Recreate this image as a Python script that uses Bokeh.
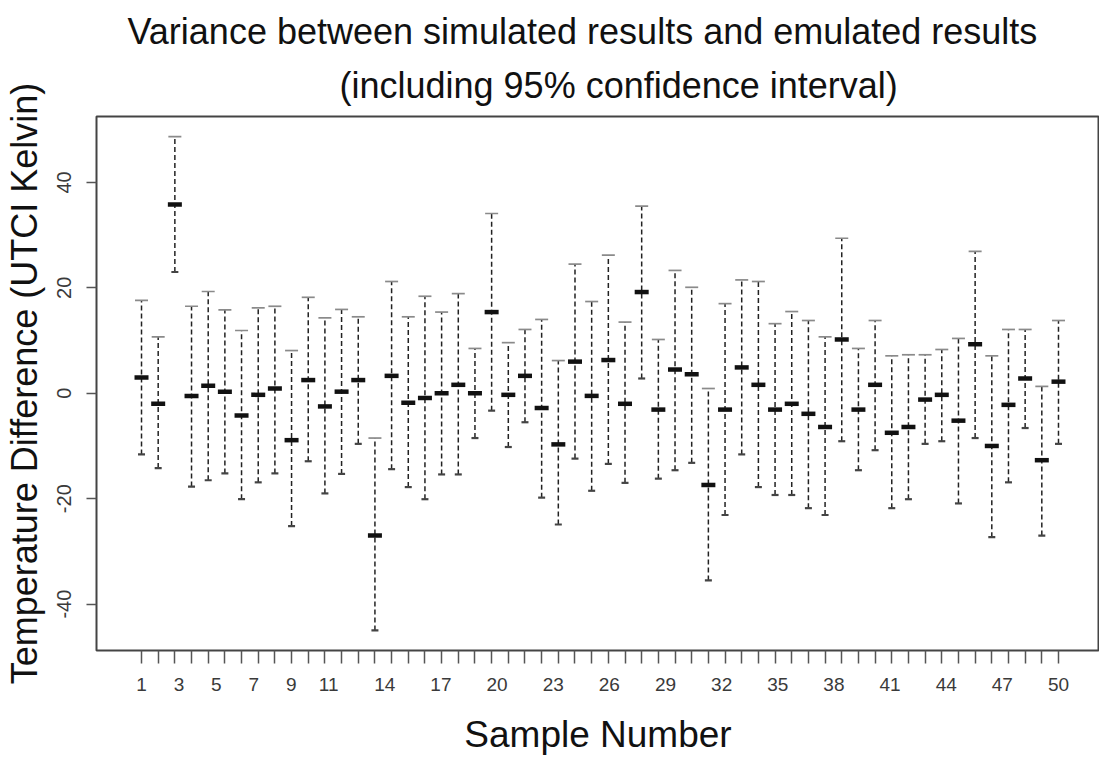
from bokeh.plotting import figure
from bokeh.models import Range1d, FixedTicker, CustomJSTickFormatter, Title, ColumnDataSource
from bokeh.embed import file_html
from bokeh.resources import INLINE

FONT = "Liberation Sans"

# ---------------- data ----------------
sample_means = [3.0, -2.0, 35.8, -0.5, 1.4, 0.3, -4.2, -0.3, 0.9, -8.9, 2.5, -2.5, 0.3,
                2.5, -27.0, 3.3, -1.8, -0.9, 0.0, 1.6, 0.0, 15.4, -0.3, 3.3, -2.8, -9.7, 6.0, -0.5,
                6.3, -2.0, 19.2, -3.1, 4.5, 3.6, -17.4, -3.1, 4.9, 1.6, -3.1, -2.0, -3.9, -6.4, 10.2,
                -3.1, 1.6, -7.5, -6.4, -1.2, -0.3, -5.2, 9.3, -10.0, -2.2, 2.8, -12.7, 2.2]
upper_ci = [17.6, 10.7, 48.7, 16.5, 19.3, 15.8, 11.9, 16.2, 16.5, 8.1, 18.2, 14.3, 15.9,
            14.5, -8.5, 21.2, 14.5, 18.4, 15.4, 18.9, 8.5, 34.1, 9.6, 12.1, 14.0, 6.2, 24.5, 17.4,
            26.2, 13.5, 35.5, 10.2, 23.3, 20.1, 0.9, 17.0, 21.5, 21.2, 13.2, 15.5, 13.8, 10.7, 29.4,
            8.5, 13.8, 7.1, 7.3, 7.3, 8.3, 10.4, 26.9, 7.1, 12.1, 12.1, 1.3, 13.8]
lower_ci = [-11.6, -14.2, 23.0, -17.7, -16.5, -15.2, -20.1, -16.9, -15.2, -25.2, -12.9, -19.0, -15.3,
            -9.6, -45.0, -14.4, -17.8, -20.1, -15.4, -15.4, -8.5, -3.3, -10.2, -5.5, -19.8, -24.9, -12.4, -18.5,
            -13.4, -17.0, 2.8, -16.2, -14.6, -13.2, -35.5, -23.1, -11.6, -17.8, -19.3, -19.3, -21.8, -23.1, -9.1,
            -14.6, -10.8, -21.8, -20.1, -9.6, -9.1, -20.9, -8.5, -27.3, -16.9, -6.6, -27.0, -9.6]
x_tick_labels = ["1", "3", "5", "7", "9", "11", "14", "17", "20", "23", "26", "29",
                 "32", "35", "38", "41", "44", "47", "50"]
y_ticks = [-40, -20, 0, 20, 40]

title_line1 = "Variance between simulated results and emulated results"
title_line2 = "(including 95% confidence interval)"
x_title = "Sample Number"
y_title = "Temperature Difference (UTCI Kelvin)"

n = len(sample_means)
idx = list(range(1, n + 1))
# in the reference the labels 1..50 are spread evenly over the bar positions 1..n
label_max = 50
label_pos = [1 + (int(t) - 1) * (n - 1) / (label_max - 1) for t in x_tick_labels]

src = ColumnDataSource(dict(x=idx, m=sample_means, lo=lower_ci, hi=upper_ci))

p = figure(width=1099, height=774,
           x_range=Range1d(-1.7, 58.46), y_range=Range1d(-48.8, 52.5),
           output_backend="svg", toolbar_location=None, title=None,
           min_border_left=95, min_border_right=0, min_border_top=116, min_border_bottom=124)
p.grid.visible = False
p.outline_line_color = "#444444"
p.outline_line_width = 2
p.background_fill_color = "white"
p.border_fill_color = "white"

p.segment(x0="x", y0="lo", x1="x", y1="hi", source=src,
          line_color="#222222", line_width=1.5, line_dash="5 3")
p.scatter(x="x", y="hi", source=src, marker="dash", size=13,
          line_color="#8a8a8a", line_width=1.7)
p.scatter(x="x", y="lo", source=src, marker="dash", size=7,
          line_color="#444444", line_width=2.2)
p.rect(x="x", y="m", width=14, height=4.5, width_units="screen", height_units="screen",
       source=src, fill_color="#111111", line_color=None)

# x axis
xa = p.xaxis[0]
xa.ticker = FixedTicker(ticks=label_pos, minor_ticks=idx)
xa.formatter = CustomJSTickFormatter(args=dict(labs=x_tick_labels), code="return labs[index];")
xa.axis_line_color = None
xa.major_tick_line_color = None
xa.major_tick_in = 0
xa.major_tick_out = 14
xa.minor_tick_line_color = "#555555"
xa.minor_tick_line_width = 1.5
xa.minor_tick_in = 0
xa.minor_tick_out = 13
xa.major_label_standoff = 13
xa.major_label_text_font = FONT
xa.major_label_text_font_size = "19px"
xa.major_label_text_color = "#3a3a3a"
xa.axis_label = x_title
xa.axis_label_standoff = 20
xa.axis_label_text_font = FONT
xa.axis_label_text_font_size = "37px"
xa.axis_label_text_font_style = "normal"
xa.axis_label_text_color = "#111111"

# y axis
ya = p.yaxis[0]
ya.ticker = FixedTicker(ticks=y_ticks, minor_ticks=[])
ya.formatter = CustomJSTickFormatter(code="return tick.toFixed(0);")
ya.axis_line_color = None
ya.major_tick_line_color = "#555555"
ya.major_tick_line_width = 1.5
ya.major_tick_in = 0
ya.major_tick_out = 10
ya.major_label_orientation = "vertical"
ya.major_label_standoff = 15
ya.major_label_text_font = FONT
ya.major_label_text_font_size = "20px"
ya.major_label_text_color = "#3a3a3a"
ya.axis_label = y_title
ya.axis_label_standoff = 10
ya.axis_label_text_font = FONT
ya.axis_label_text_font_size = "36px"
ya.axis_label_text_font_style = "normal"
ya.axis_label_text_color = "#111111"

# two-line title (second line added first so it sits next to the frame)
p.add_layout(Title(text=title_line2, align="left", offset=243, standoff=22,
                   text_font=FONT, text_font_size="36px", text_font_style="normal",
                   text_color="#111111"), "above")
p.add_layout(Title(text=title_line1, align="left", offset=31, standoff=0,
                   text_font=FONT, text_font_size="36px", text_font_style="normal",
                   text_color="#111111"), "above")

open("out.html", "w").write(file_html(p, INLINE))
